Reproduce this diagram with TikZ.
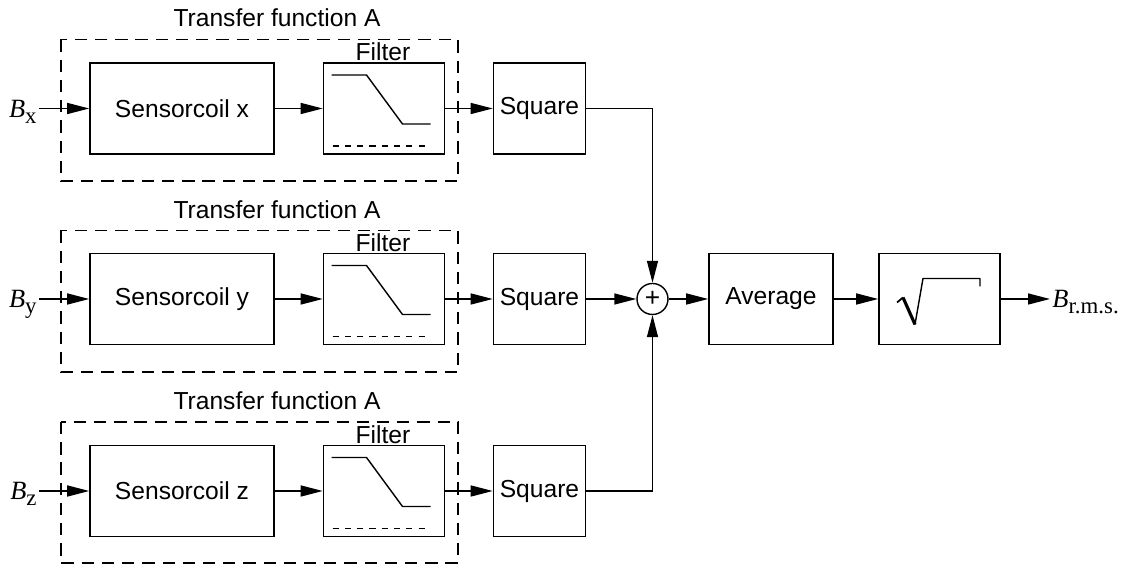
\documentclass[tikz,border=0pt]{standalone}
\usepackage{fontspec}
\setmainfont{Liberation Sans}
\newfontfamily\timesfont{Liberation Serif}
\usetikzlibrary{arrows.meta}

\newcommand{\bsig}[1]{{\timesfont\fontsize{15}{18}\selectfont\itshape B}{\timesfont\fontsize{13}{15}\selectfont\raisebox{-3.5pt}[0pt][0pt]{#1}}}

\tikzset{
	block/.style={draw, line width=0.9pt, minimum height=1.82cm, inner sep=0pt, font=\fontsize{14}{16}\selectfont},
	tfbox/.style={line width=0.8pt, dash pattern=on 7pt off 4.5pt},
	caption/.style={font=\fontsize{14}{16}\selectfont, inner sep=0pt},
	stopline/.style={line width=0.6pt, dash pattern=on 3.5pt off 3.5pt}
}

\begin{document}
\begin{tikzpicture}[>={Triangle[length=0.44cm,width=0.22cm]}, line width=0.8pt]
	\useasboundingbox (0,0) rectangle (22.56,11.32);
	
	% channel x
	
	\draw[tfbox] (1.22,10.53) rectangle (9.16,7.7);
	
	\node[caption] (tfx) at (5.54,10.96) {Transfer function A};
	
	\node[anchor=east, inner sep=1pt] (bx) at (0.78,9.15) {\bsig{x}};
	
	\node[block, minimum width=3.68cm] (coilx) at (3.64,9.15) {Sensorcoil x};
	
	\node[block, minimum width=2.42cm] (filtx) at (7.68,9.15) {};
	
	\node[caption] (filtxl) at (7.66,10.28) {Filter};
	
	\draw[shift={(filtx.center)}] (-1.05,0.67) -- (-0.35,0.67) -- (0.37,-0.31) -- (0.93,-0.31);
	
	\draw[shift={(filtx.center)}, stopline] (-1.03,-0.75) -- (0.91,-0.75);
	
	\node[block, minimum width=1.84cm] (sqx) at (10.79,9.15) {Square};
	
	\draw[->] (bx.east) -- (coilx.west);
	
	\draw[->] (coilx) -- (filtx);
	
	\draw[->] (filtx) -- (sqx);
	
	% channel y
	
	\draw[tfbox] (1.22,6.71) rectangle (9.16,3.88);
	
	\node[caption] (tfy) at (5.54,7.12) {Transfer function A};
	
	\node[anchor=east, inner sep=1pt] (by) at (0.78,5.34) {\bsig{y}};
	
	\node[block, minimum width=3.68cm] (coily) at (3.64,5.34) {Sensorcoil y};
	
	\node[block, minimum width=2.42cm] (filty) at (7.68,5.34) {};
	
	\node[caption] (filtyl) at (7.66,6.47) {Filter};
	
	\draw[shift={(filty.center)}] (-1.05,0.67) -- (-0.35,0.67) -- (0.37,-0.31) -- (0.93,-0.31);
	
	\draw[shift={(filty.center)}, stopline] (-1.03,-0.75) -- (0.91,-0.75);
	
	\node[block, minimum width=1.84cm] (sqy) at (10.79,5.34) {Square};
	
	\draw[->] (by.east) -- (coily.west);
	
	\draw[->] (coily) -- (filty);
	
	\draw[->] (filty) -- (sqy);
	
	% channel z
	
	\draw[tfbox] (1.22,2.88) rectangle (9.16,0.06);
	
	\node[caption] (tfz) at (5.54,3.3) {Transfer function A};
	
	\node[anchor=east, inner sep=1pt] (bz) at (0.78,1.5) {\bsig{z}};
	
	\node[block, minimum width=3.68cm] (coilz) at (3.64,1.5) {Sensorcoil z};
	
	\node[block, minimum width=2.42cm] (filtz) at (7.68,1.5) {};
	
	\node[caption] (filtzl) at (7.66,2.63) {Filter};
	
	\draw[shift={(filtz.center)}] (-1.05,0.67) -- (-0.35,0.67) -- (0.37,-0.31) -- (0.93,-0.31);
	
	\draw[shift={(filtz.center)}, stopline] (-1.03,-0.75) -- (0.91,-0.75);
	
	\node[block, minimum width=1.84cm] (sqz) at (10.79,1.5) {Square};
	
	\draw[->] (bz.east) -- (coilz.west);
	
	\draw[->] (coilz) -- (filtz);
	
	\draw[->] (filtz) -- (sqz);
	
	% sum, average and root
	
	\node[draw, circle, minimum size=0.62cm, inner sep=0pt, font=\fontsize{15}{16}\selectfont] (sum) at (13.05,5.34) {+};
	
	\draw[->] (sqx.east) -| (sum.north);
	
	\draw[->] (sqy.east) -- (sum.west);
	
	\draw[->] (sqz.east) -| (sum.south);
	
	\node[block, minimum width=2.48cm] (avg) at (15.42,5.34) {Average};
	
	\node[block, minimum width=2.42cm] (root) at (18.79,5.34) {};
	
	\draw[shift={(root.center)}, line width=1pt] (-0.85,-0.07) -- (-0.73,0.03);
	
	\draw[shift={(root.center)}, line width=1.8pt] (-0.73,0.03) -- (-0.49,-0.51);
	
	\draw[shift={(root.center)}, line join=round] (-0.49,-0.51) -- (-0.33,0.41) -- (0.81,0.41) -- (0.81,0.25);
	
	\node[anchor=west, inner sep=1pt] (brms) at (21.0,5.34) {\bsig{r.m.s.}};
	
	\draw[->] (sum) -- (avg);
	
	\draw[->] (avg) -- (root);
	
	\draw[->] (root.east) -- (brms.west);
	
\end{tikzpicture}
\end{document}
